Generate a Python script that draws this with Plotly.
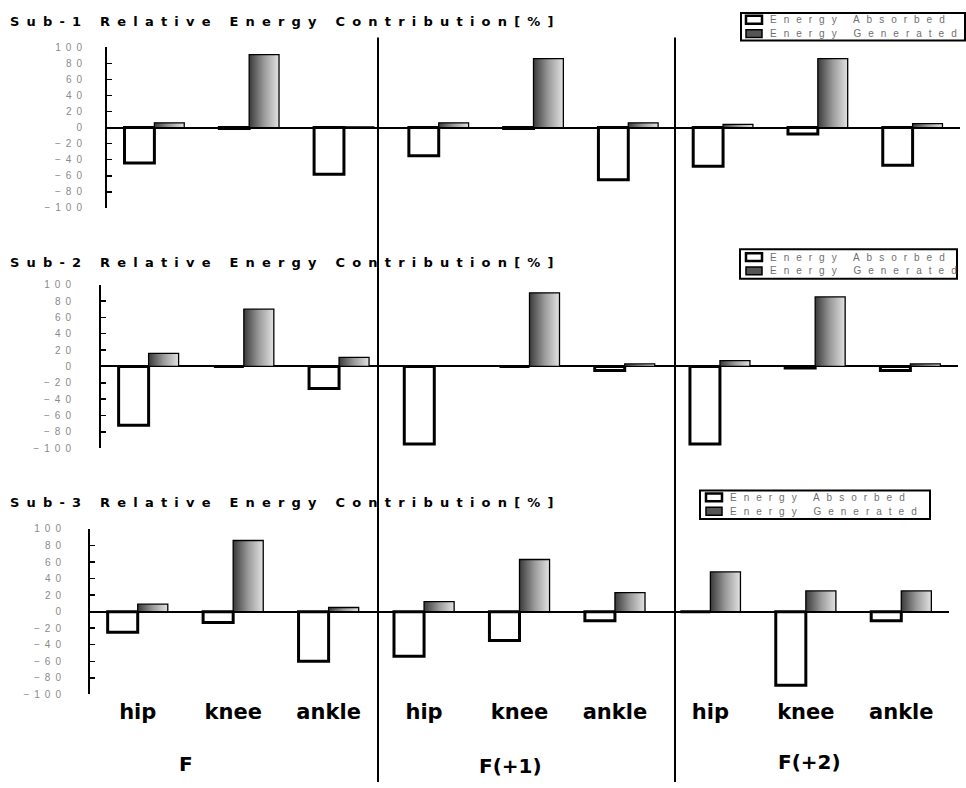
import plotly.graph_objects as go

# ---------------- data ----------------
conditions = ["F", "F(+1)", "F(+2)"]
joints = ["hip", "knee", "ankle"]
series_names = ["Energy Absorbed", "Energy Generated"]
panel_titles = [
    "Sub-1 Relative Energy Contribution[%]",
    "Sub-2 Relative Energy Contribution[%]",
    "Sub-3 Relative Energy Contribution[%]",
]

# order: F hip/knee/ankle, F(+1) hip/knee/ankle, F(+2) hip/knee/ankle
sub1_absorbed = [-44, -1, -58, -35, -1, -65, -48, -8, -47]
sub1_generated = [6, 91, 1, 6, 86, 6, 4, 86, 5]
sub2_absorbed = [-72, 0, -27, -95, 0, -5, -95, -2, -5]
sub2_generated = [16, 70, 11, 1, 90, 3, 7, 85, 3]
sub3_absorbed = [-25, -13, -60, -54, -35, -11, 0, -89, -11]
sub3_generated = [9, 86, 5, 12, 63, 23, 48, 25, 25]

y_ticks = [-100, -80, -60, -40, -20, 0, 20, 40, 60, 80, 100]

absorbed_sets = [sub1_absorbed, sub2_absorbed, sub3_absorbed]
generated_sets = [sub1_generated, sub2_generated, sub3_generated]

x_keys = [f"{c} {j}" for c in conditions for j in joints]
x_labels = [j for c in conditions for j in joints]

# ---------------- styles ----------------
ABS_STYLE = dict(fill="white", line="black", lw_bar=3, lw_key=2.5)
GEN_STYLE = dict(fill="#8c8c8c", line="black", lw_bar=1.3, lw_key=1.5, key_fill="#555555")

W, H = 966, 788


def fx(px):
    return px / W


def fy(py):
    return 1 - py / H


panels = [
    dict(x0=107, x1=960, ytop=42, ybot=205, title_y=16, standoff=16,
         box=(741, 7, 965, 35), rows=(14, 28), key_x=746, text_x=768),
    dict(x0=101, x1=958, ytop=283, ybot=449, title_y=260, standoff=21,
         box=(740, 247, 957, 277), rows=(255, 269), key_x=746, text_x=768),
    dict(x0=90, x1=949, ytop=531, ybot=699, title_y=504, standoff=20,
         box=(700, 492, 930, 521), rows=(499, 513), key_x=706, text_x=728),
]

fig = go.Figure()

for i, p in enumerate(panels):
    n = "" if i == 0 else str(i + 1)
    fig.add_trace(go.Bar(
        x=x_keys, y=absorbed_sets[i], name=series_names[0],
        xaxis="x" + n, yaxis="y" + n, showlegend=False,
        marker=dict(color=ABS_STYLE["fill"], line=dict(color=ABS_STYLE["line"], width=ABS_STYLE["lw_bar"])),
    ))
    fig.add_trace(go.Bar(
        x=x_keys, y=generated_sets[i], name=series_names[1],
        xaxis="x" + n, yaxis="y" + n, showlegend=False,
        marker=dict(color=GEN_STYLE["fill"], line=dict(color=GEN_STYLE["line"], width=GEN_STYLE["lw_bar"])),
    ))

layout = dict(
    width=W, height=H, autosize=False,
    margin=dict(l=0, r=0, t=0, b=0),
    paper_bgcolor="white", plot_bgcolor="white",
    barmode="group", bargap=0.37, bargroupgap=0.0,
    showlegend=False,
    font=dict(family="Liberation Sans", color="black"),
)

shapes = []
annotations = []

# panel titles (annotation indices 0..2)
for i, p in enumerate(panels):
    annotations.append(dict(
        text=panel_titles[i], xref="paper", yref="paper",
        x=fx(8), y=fy(p["title_y"]), xanchor="left", yanchor="middle", align="left",
        showarrow=False,
        font=dict(family="DejaVu Sans", size=13, color="black", weight="bold"),
    ))

# legend keys (annotation indices 3..8)
for i, p in enumerate(panels):
    bx0, by0, bx1, by1 = p["box"]
    shapes.append(dict(type="rect", xref="paper", yref="paper",
                       x0=fx(bx0), x1=fx(bx1), y0=fy(by1), y1=fy(by0),
                       line=dict(color="black", width=2), fillcolor="rgba(0,0,0,0)"))
    for name, ry, st in zip(series_names, p["rows"], (ABS_STYLE, GEN_STYLE)):
        shapes.append(dict(type="rect", xref="paper", yref="paper",
                           x0=fx(p["key_x"]), x1=fx(p["key_x"] + 16),
                           y0=fy(ry + 4), y1=fy(ry - 4),
                           line=dict(color="black", width=st["lw_key"]),
                           fillcolor=st.get("key_fill", st["fill"])))
        annotations.append(dict(
            text=name, xref="paper", yref="paper",
            x=fx(p["text_x"]), y=fy(ry), xanchor="left", yanchor="middle", align="left",
            showarrow=False,
            font=dict(family="Liberation Sans", size=10, color="#707070"),
        ))

for i, p in enumerate(panels):
    n = "" if i == 0 else str(i + 1)
    xa = dict(
        domain=[fx(p["x0"]), fx(p["x1"])], anchor="y" + n,
        type="category", categoryorder="array", categoryarray=x_keys,
        showgrid=False, zeroline=False, showline=False, ticks="",
        showticklabels=(i == 2),
        fixedrange=True,
    )
    if i == 2:
        xa.update(
            tickmode="array", tickvals=x_keys, ticktext=x_labels,
            tickfont=dict(family="DejaVu Sans", size=21, color="black", weight="bold"),
            ticklabelstandoff=3,
        )
    ya = dict(
        domain=[fy(p["ybot"]), fy(p["ytop"])], anchor="x" + n,
        range=[-100, 100], tickmode="array", tickvals=y_ticks,
        showgrid=False, showline=True, linecolor="black", linewidth=2,
        ticks="inside", ticklen=5, tickwidth=1.5, tickcolor="black",
        zeroline=True, zerolinecolor="black", zerolinewidth=2,
        tickfont=dict(family="Liberation Sans", size=10, color="#8a8a8a"),
        ticklabelstandoff=p["standoff"],
        fixedrange=True,
    )
    layout["xaxis" + n] = xa
    layout["yaxis" + n] = ya

# group labels under the bottom panel
group_label_pos = [(186, 770), (510, 772), (809, 768)]
for c, (gx, gy) in zip(conditions, group_label_pos):
    annotations.append(dict(
        text=c, xref="paper", yref="paper", x=fx(gx), y=fy(gy),
        xanchor="center", yanchor="middle", showarrow=False,
        font=dict(family="DejaVu Sans", size=20, color="black", weight="bold"),
    ))

# vertical separators between the condition groups
for sx in (378, 675):
    shapes.append(dict(type="line", xref="paper", yref="paper",
                       x0=fx(sx), x1=fx(sx), y0=fy(32), y1=0,
                       line=dict(color="black", width=2)))

layout["shapes"] = shapes
layout["annotations"] = annotations
fig.update_layout(**layout)

title_sel = ", ".join(f'.annotation[data-index="{k}"] text' for k in range(0, 3))
legend_sel = ", ".join(f'.annotation[data-index="{k}"] text' for k in range(3, 9))

post = """
document.documentElement.style.margin = '0';
document.body.style.margin = '0';
document.body.style.overflow = 'hidden';
var gd = document.getElementById('{plot_id}');
var css = document.createElement('style');
css.textContent = [
 '%s {letter-spacing: 7.2px;}',
 '%s {letter-spacing: 7px;}',
 '.ytick text, .y2tick text, .y3tick text {letter-spacing: 5px;}',
 '.barlayer .trace.bars:nth-child(2) .point path {fill: url(#gengrad) !important;}'
].join('\\n');
document.head.appendChild(css);
var ns = 'http://www.w3.org/2000/svg';
var svg = gd.querySelector('svg.main-svg');
var defs = svg.querySelector('defs');
if (!defs) { defs = document.createElementNS(ns, 'defs'); svg.insertBefore(defs, svg.firstChild); }
var lgr = document.createElementNS(ns, 'linearGradient');
lgr.setAttribute('id', 'gengrad');
lgr.setAttribute('x1', '0'); lgr.setAttribute('y1', '0');
lgr.setAttribute('x2', '1'); lgr.setAttribute('y2', '0');
[['0', '#3a3a3a'], ['0.5', '#9a9a9a'], ['1', '#e2e2e2']].forEach(function (s) {
  var st = document.createElementNS(ns, 'stop');
  st.setAttribute('offset', s[0]); st.setAttribute('stop-color', s[1]);
  lgr.appendChild(st);
});
defs.appendChild(lgr);
""" % (title_sel, legend_sel)

fig.write_html("out.html", post_script=post, config={"staticPlot": True})
